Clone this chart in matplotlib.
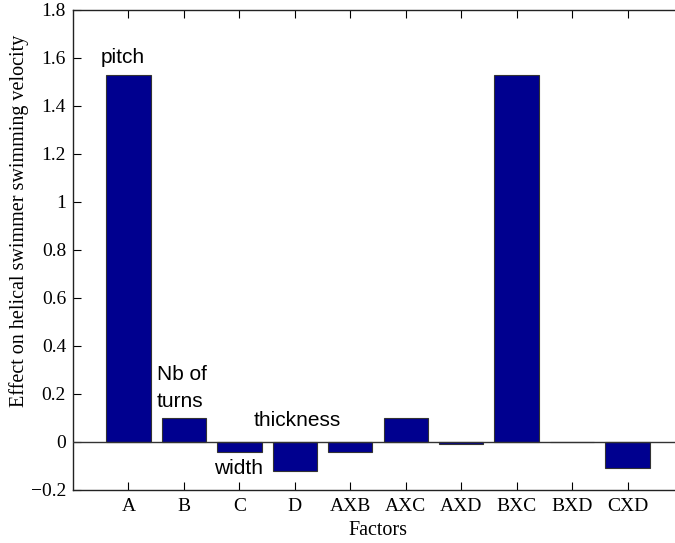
import numpy as np
import matplotlib
matplotlib.use("Agg")
import matplotlib.pyplot as plt

# factor effects
factors = ["A", "B", "C", "D", "AXB", "AXC", "AXD", "BXC", "BXD", "CXD"]
effects = [1.529, 0.10, -0.042, -0.121, -0.042, 0.10, -0.01, 1.529, -0.002, -0.11]

serif = ["Liberation Serif", "DejaVu Serif"]
sans = ["Liberation Sans", "DejaVu Sans"]

fig = plt.figure(figsize=(6.75, 5.43), dpi=100)
ax = fig.add_axes([73 / 675, 53 / 543, 610 / 675, 480 / 543])

x = np.arange(1, len(factors) + 1)
ax.bar(x, effects, width=0.8, color="#00008F", edgecolor="#333333", linewidth=0.8, zorder=2)
ax.axhline(0, color="#333333", linewidth=1.0, zorder=3)

ax.set_xlim(0, 11)
ax.set_ylim(-0.2, 1.8)
ax.set_xticks(x)
ax.set_xticklabels(factors, fontfamily=serif, fontsize=14)
yt = np.arange(-0.2, 1.81, 0.2)
ax.set_yticks(yt)
ax.set_yticklabels([("%g" % round(v, 1)).replace("-", "\u2212") for v in yt],
                   fontfamily=serif, fontsize=14)
ax.tick_params(direction="in", length=6, width=0.8, top=True, right=True)
ax.tick_params(axis="x", pad=6)
ax.tick_params(axis="y", pad=5)
for s in ax.spines.values():
    s.set_linewidth(1.0)
    s.set_color("#222222")

ax.set_xlabel("Factors", fontfamily=serif, fontsize=14.5, labelpad=4)
ax.set_ylabel("Effect on helical swimmer swimming velocity", fontfamily=serif, fontsize=14.5, labelpad=4)
ax.yaxis.set_label_coords(-0.072, 0.56)

# annotations
ax.text(0.50, 1.58, "pitch", fontfamily=sans, fontsize=15, va="baseline")
ax.text(1.51, 0.258, "Nb of", fontfamily=sans, fontsize=15, va="baseline")
ax.text(1.51, 0.146, "turns", fontfamily=sans, fontsize=15, va="baseline")
ax.text(3.26, 0.067, "thickness", fontfamily=sans, fontsize=15, va="baseline")
ax.text(2.54, -0.133, "width", fontfamily=sans, fontsize=15, va="baseline")

fig.savefig("out.png", dpi=100)
